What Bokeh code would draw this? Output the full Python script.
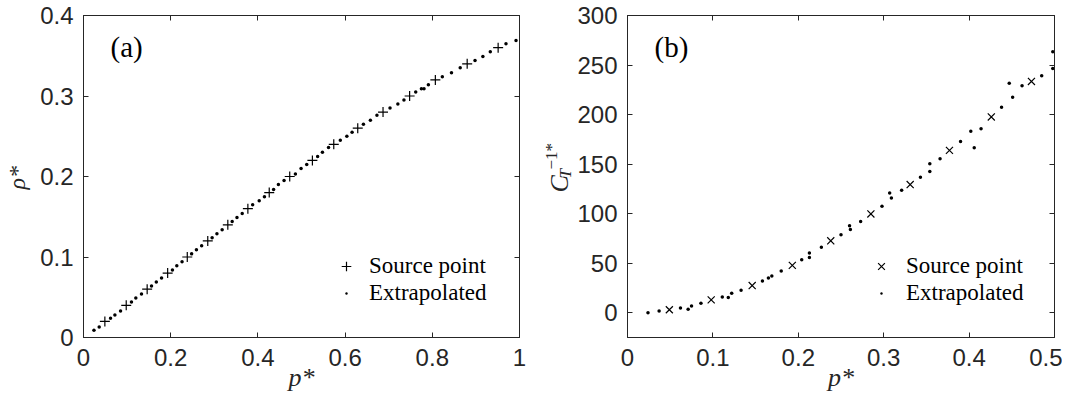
import math
from bokeh.plotting import figure
from bokeh.models import Range1d, FixedTicker, LinearAxis, Legend, LegendItem, Label
from bokeh.layouts import row
from bokeh.embed import file_html
from bokeh.resources import INLINE

# ---------------- data ----------------
source_p = [0.049, 0.098, 0.146, 0.193, 0.238, 0.285, 0.331, 0.377, 0.426,
            0.473, 0.525, 0.574, 0.629, 0.687, 0.748, 0.807, 0.880, 0.951]
source_rho = [0.02, 0.04, 0.06, 0.08, 0.10, 0.12, 0.14, 0.16, 0.18,
              0.20, 0.22, 0.24, 0.26, 0.28, 0.30, 0.32, 0.34, 0.36]
source_ct = [3.0, 13.0, 27.4, 47.8, 72.6, 99.7, 129.4, 163.9, 197.6, 233.4]

extrap_a_p = [0.024, 0.036, 0.062, 0.072, 0.085, 0.110, 0.120, 0.133, 0.156, 0.167,
              0.179, 0.204, 0.214, 0.226, 0.248, 0.259, 0.271, 0.295, 0.306, 0.318,
              0.341, 0.352, 0.364, 0.388, 0.403, 0.415, 0.436, 0.447, 0.460, 0.486,
              0.499, 0.512, 0.537, 0.548, 0.562, 0.589, 0.604, 0.616, 0.642, 0.658,
              0.673, 0.703, 0.721, 0.735, 0.762, 0.775, 0.781, 0.791, 0.823, 0.844,
              0.864, 0.898, 0.916, 0.933, 0.969, 0.992]
extrap_a_rho = [0.009, 0.013, 0.024, 0.028, 0.033, 0.044, 0.049, 0.054, 0.064, 0.069,
                0.074, 0.084, 0.089, 0.094, 0.104, 0.109, 0.114, 0.124, 0.129, 0.134,
                0.144, 0.149, 0.154, 0.165, 0.170, 0.175, 0.184, 0.190, 0.195, 0.203,
                0.210, 0.215, 0.225, 0.230, 0.236, 0.245, 0.250, 0.255, 0.265, 0.270,
                0.276, 0.285, 0.290, 0.295, 0.305, 0.309, 0.309, 0.314, 0.324, 0.329,
                0.335, 0.344, 0.349, 0.355, 0.365, 0.369]

extrap_b_p = [0.024, 0.037, 0.062, 0.071, 0.075, 0.086, 0.111, 0.118, 0.122, 0.133,
              0.158, 0.165, 0.169, 0.180, 0.204, 0.213, 0.213, 0.227, 0.250, 0.260,
              0.261, 0.273, 0.298, 0.307, 0.309, 0.321, 0.343, 0.354, 0.354, 0.366,
              0.390, 0.402, 0.406, 0.414, 0.438, 0.451, 0.447, 0.462, 0.485, 0.498,
              0.498]
extrap_b_ct = [0.0, 1.7, 4.8, 3.4, 6.8, 9.5, 16.0, 15.3, 19.7, 22.8,
               32.0, 35.0, 37.0, 42.2, 53.4, 55.7, 60.4, 66.0, 78.7, 87.8,
               84.1, 92.2, 107.4, 120.9, 115.9, 123.6, 136.8, 142.6, 150.3, 155.4,
               172.7, 183.2, 166.6, 185.6, 207.3, 217.6, 231.5, 229.2, 239.1, 246.6,
               263.5]

ticks_a_x = [0, 0.2, 0.4, 0.6, 0.8, 1.0]
labels_a_x = ["0", "0.2", "0.4", "0.6", "0.8", "1"]
ticks_a_y = [0, 0.1, 0.2, 0.3, 0.4]
labels_a_y = ["0", "0.1", "0.2", "0.3", "0.4"]
ticks_b_x = [0, 0.1, 0.2, 0.3, 0.4, 0.5]
labels_b_x = ["0", "0.1", "0.2", "0.3", "0.4", "0.5"]
ticks_b_y = [0, 50, 100, 150, 200, 250, 300]
labels_b_y = ["0", "50", "100", "150", "200", "250", "300"]
legend_labels = ["Source point", "Extrapolated"]
panel_tags = ["(a)", "(b)"]
x_label = "p*"
y_label_a = "ρ*"
y_label_b_parts = ["C", "T", "−1*"]   # C_T^{-1*}

# ---------------- style ----------------
AX = "#262626"
SANS = "Liberation Sans"
SERIF = "Liberation Serif"
H = 395


def style_axis(ax, ticks, labels, show, standoff=10):
    ax.ticker = FixedTicker(ticks=ticks)
    if show:
        ax.major_label_overrides = {t: l for t, l in zip(ticks, labels)}
        ax.major_label_text_font_size = "24px"
    else:
        ax.major_label_overrides = {t: "" for t in ticks}
        ax.major_label_text_font_size = "0px"
    ax.major_label_standoff = standoff
    ax.major_tick_in = 5
    ax.major_tick_out = 0
    ax.minor_tick_in = 0
    ax.minor_tick_out = 0
    ax.minor_tick_line_color = None
    ax.axis_line_color = AX
    ax.major_tick_line_color = AX
    ax.major_label_text_font = SANS
    ax.major_label_text_color = AX


def set_label(ax, txt, size, standoff):
    ax.axis_label = txt
    ax.axis_label_text_font = SERIF
    ax.axis_label_text_font_style = "italic"
    ax.axis_label_text_font_size = size
    ax.axis_label_text_color = AX
    ax.axis_label_standoff = standoff


def make_fig(width, left, right, xr, yr, tx, lx, ty, ly):
    p = figure(width=width, height=H, x_range=xr, y_range=yr,
               output_backend="svg", toolbar_location=None,
               min_border_left=left, min_border_right=right,
               min_border_top=15, min_border_bottom=58)
    p.xgrid.visible = False
    p.ygrid.visible = False
    p.outline_line_color = AX
    p.background_fill_color = "white"
    p.border_fill_color = "white"
    style_axis(p.below[0], tx, lx, True, standoff=11)
    style_axis(p.left[0], ty, ly, True, standoff=10)
    top = LinearAxis()
    style_axis(top, tx, lx, False, standoff=0)
    p.add_layout(top, "above")
    rgt = LinearAxis()
    style_axis(rgt, ty, ly, False, standoff=0)
    p.add_layout(rgt, "right")
    return p


def label_strip(width, parts):
    # narrow figure whose frame (aligned with its neighbours' frames by the
    # row layout) carries a rotated y-axis label
    s = figure(width=width, height=H, x_range=Range1d(0, 1), y_range=Range1d(0, 1),
               x_axis_location=None, y_axis_location=None, min_border=0,
               output_backend="svg", toolbar_location=None)
    s.outline_line_color = None
    s.grid.visible = False
    s.background_fill_color = "white"
    s.border_fill_color = "white"
    for txt, x, y, size, style in parts:
        s.add_layout(Label(x=x, y=y, x_units="screen", y_units="screen", text=txt,
                           angle=math.pi / 2, text_font=SERIF, text_font_size=size,
                           text_font_style=style, text_color=AX,
                           text_align="left", text_baseline="alphabetic"))
    return s


def add_legend(p, r1, r2, loc, standoff):
    leg = Legend(items=[LegendItem(label=legend_labels[0], renderers=[r1]),
                        LegendItem(label=legend_labels[1], renderers=[r2])],
                 location=loc, orientation="vertical", padding=0, margin=0,
                 spacing=1, glyph_width=24, glyph_height=26, label_height=26,
                 label_standoff=standoff, label_text_font=SERIF,
                 label_text_font_size="23px", label_text_color="black",
                 border_line_color=None, background_fill_alpha=0)
    p.add_layout(leg)


def add_tag(p, txt):
    p.add_layout(Label(x=27, y=291, x_units="screen", y_units="screen",
                       text=txt, text_font=SERIF, text_font_size="29px",
                       text_color="black", text_baseline="alphabetic"))


# ---------------- y label strip of (a) ----------------
p0 = label_strip(32, [(y_label_a, 16, 148, "24px", "italic")])

# ---------------- panel (a) ----------------
pa = make_fig(499, 51, 12, Range1d(0, 1), Range1d(0, 0.4),
              ticks_a_x, labels_a_x, ticks_a_y, labels_a_y)
set_label(pa.below[0], x_label, "26px", -6)

ra1 = pa.scatter(source_p, source_rho, marker="cross", size=10,
                 line_color="black", line_width=1.2)
ra2 = pa.scatter(extrap_a_p, extrap_a_rho, marker="dot", size=14,
                 line_color="black", fill_color="black")
add_legend(pa, ra1, ra2, (251, 31), 11)
add_tag(pa, panel_tags[0])

# ---------------- y label strip of (b) ----------------
pc = label_strip(41, [(y_label_b_parts[0], 28, 145, "26px", "italic"),
                      (y_label_b_parts[1], 34, 159, "17px", "italic"),
                      (y_label_b_parts[2], 20, 168, "17px", "normal")])

# ---------------- panel (b) ----------------
pb = make_fig(490, 55, 8, Range1d(0, 0.5), Range1d(-25, 300),
              ticks_b_x, labels_b_x, ticks_b_y, labels_b_y)
set_label(pb.below[0], x_label, "26px", -6)

rb1 = pb.scatter(source_p[:len(source_ct)], source_ct, marker="x", size=10,
                 line_color="black", line_width=1.2)
rb2 = pb.scatter(extrap_b_p, extrap_b_ct, marker="dot", size=14,
                 line_color="black", fill_color="black")
add_legend(pb, rb1, rb2, (242, 31), 13)
add_tag(pb, panel_tags[1])

layout = row(p0, pa, pc, pb)
open("out.html", "w").write(file_html(layout, INLINE))
